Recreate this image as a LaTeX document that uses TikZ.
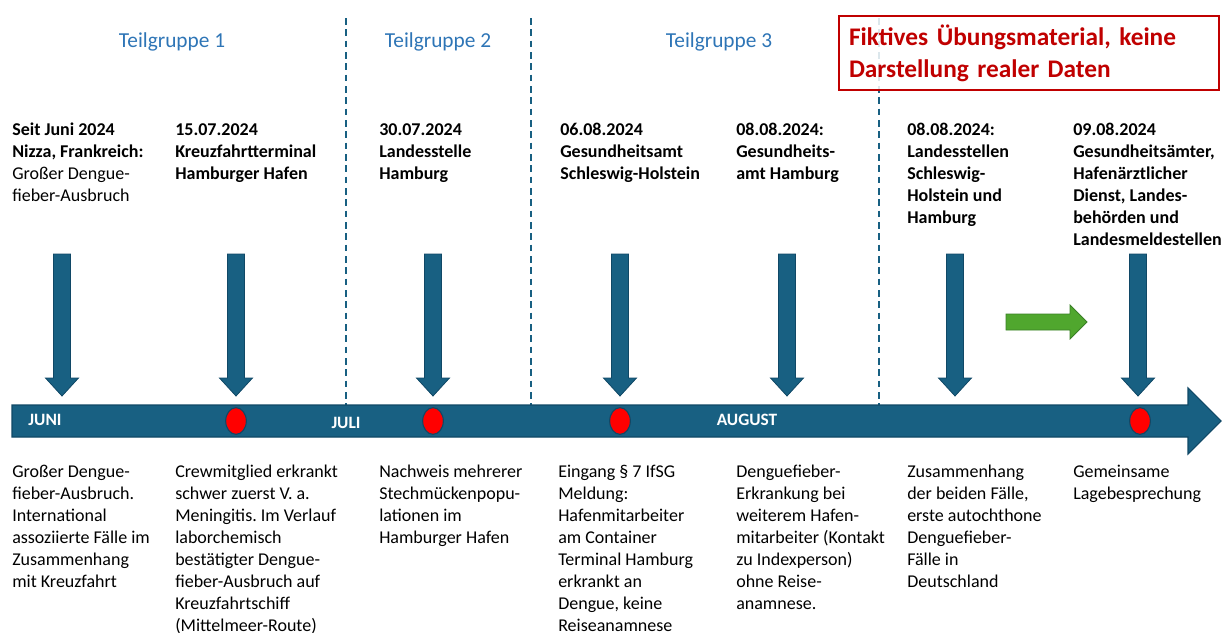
\documentclass[tikz,border=0pt]{standalone}
\usepackage{fontspec}
\setmainfont{Carlito}
\frenchspacing
\usetikzlibrary{shapes.geometric}
\definecolor{tlblue}{RGB}{24,96,130}
\definecolor{tlborder}{RGB}{16,72,102}
\definecolor{grpblue}{RGB}{46,117,182}
\definecolor{boxred}{RGB}{192,0,0}
\definecolor{okgreen}{RGB}{80,167,46}
\definecolor{okgreenline}{RGB}{58,128,38}
\begin{document}
\begin{tikzpicture}[x=0.75pt,y=-0.75pt]
        \tikzset{head/.style = {anchor=north west, align=left, inner sep=0pt,
            execute at begin node=\strut, font=\fontsize{13.5}{16.5}\selectfont\bfseries}};
        \tikzset{body/.style = {anchor=north west, align=left, inner sep=0pt,
            execute at begin node=\strut, font=\fontsize{13.5}{16.5}\selectfont}};
        \tikzset{group/.style = {text=grpblue, font=\fontsize{16}{19}\selectfont}};
        \tikzset{month/.style = {text=white, font=\fontsize{13}{15}\selectfont\bfseries}};
        \tikzset{event/.style = {shape=ellipse, fill=red, draw=tlborder, line width=0.8pt,
            minimum width=15.5pt, minimum height=20pt, inner sep=0pt}};
        \tikzset{divider/.style = {draw=tlblue, line width=1.1pt, dash pattern=on 5pt off 3.5pt}};
        \useasboundingbox (0,0) rectangle (1224,632);
        \draw[divider] (346,18) -- (346,405) (531,18) -- (531,405) (879,18) -- (879,405);
        \node[group] (grp1) at (172,42) {Teilgruppe 1};
        \node[group] (grp2) at (438,42) {Teilgruppe 2};
        \node[group] (grp3) at (719,42) {Teilgruppe 3};
        \node[draw=boxred, line width=2.2pt, fill=white, fill opacity=0.85, text opacity=1,
            text=boxred, align=left, inner xsep=7.5pt, minimum width=285pt, minimum height=55.5pt,
            text width=270pt, font=\fontsize{19}{24}\selectfont\bfseries]
            (note) at (1029,53) {Fiktives Übungsmaterial, keine\\Darstellung realer Daten};
        \filldraw[fill=tlblue, draw=tlborder, line width=0.8pt] (12,405) -- (1188,405)
            -- (1188,388) -- (1221,421) -- (1188,454) -- (1188,437) -- (12,437) -- cycle;
        \foreach \x in {62,236,433,620,787,955,1138}
            \filldraw[fill=tlblue, draw=tlborder, line width=0.6pt] (\x-8.5,254) -- (\x+8.5,254)
            -- (\x+8.5,378) -- (\x+16.5,378) -- (\x,396) -- (\x-16.5,378) -- (\x-8.5,378) -- cycle;
        \filldraw[fill=okgreen, draw=okgreenline, line width=0.6pt] (1006,314) -- (1070,314)
            -- (1070,305) -- (1087,322) -- (1070,339) -- (1070,330) -- (1006,330) -- cycle;
        \node[month] (juni) at (45,420) {JUNI};
        \node[month] (juli) at (346,423) {JULI};
        \node[month] (august) at (747,420) {AUGUST};
        \node[event] (ev2) at (236,421) {};
        \node[event] (ev3) at (433,421) {};
        \node[event] (ev4) at (620,421) {};
        \node[event] (ev7) at (1140,421) {};
        \node[head] (top1) at (12,123) {Seit Juni 2024\\Nizza, Frankreich:\\
            \mdseries Großer Dengue-\\\mdseries fieber-Ausbruch};
        \node[head] (top2) at (175,123) {15.07.2024\\Kreuzfahrtterminal\\Hamburger Hafen};
        \node[head] (top3) at (379,123) {30.07.2024\\Landesstelle\\Hamburg};
        \node[head] (top4) at (560,123) {06.08.2024\\Gesundheitsamt\\Schleswig-Holstein};
        \node[head] (top5) at (736,123) {08.08.2024:\\Gesundheits-\\amt Hamburg};
        \node[head] (top6) at (907,123) {08.08.2024:\\Landesstellen\\Schleswig-\\Holstein und\\Hamburg};
        \node[head] (top7) at (1073,123) {09.08.2024\\Gesundheitsämter,\\Hafenärztlicher\\
            Dienst, Landes-\\behörden und\\Landesmeldestellen};
        \node[body] (bot1) at (12,465) {Großer Dengue-\\fieber-Ausbruch.\\International\\
            assoziierte Fälle im\\Zusammenhang\\mit Kreuzfahrt};
        \node[body] (bot2) at (175,465) {Crewmitglied erkrankt\\schwer zuerst V. a.\\
            Meningitis. Im Verlauf\\laborchemisch\\bestätigter Dengue-\\fieber-Ausbruch auf\\
            Kreuzfahrtschiff\\(Mittelmeer-Route)};
        \node[body] (bot3) at (379,465) {Nachweis mehrerer\\Stechmückenpopu-\\lationen im\\Hamburger Hafen};
        \node[body] (bot4) at (558,465) {Eingang § 7 IfSG\\Meldung:\\Hafenmitarbeiter\\am Container\\
            Terminal Hamburg\\erkrankt an\\Dengue, keine\\Reiseanamnese};
        \node[body] (bot5) at (736,465) {Denguefieber-\\Erkrankung bei\\weiterem Hafen-\\
            mitarbeiter (Kontakt\\zu Indexperson)\\ohne Reise-\\anamnese.};
        \node[body] (bot6) at (907,465) {Zusammenhang\\der beiden Fälle,\\erste autochthone\\
            Denguefieber-\\Fälle in\\Deutschland};
        \node[body] (bot7) at (1073,465) {Gemeinsame\\Lagebesprechung};
    \end{tikzpicture}
\end{document}
